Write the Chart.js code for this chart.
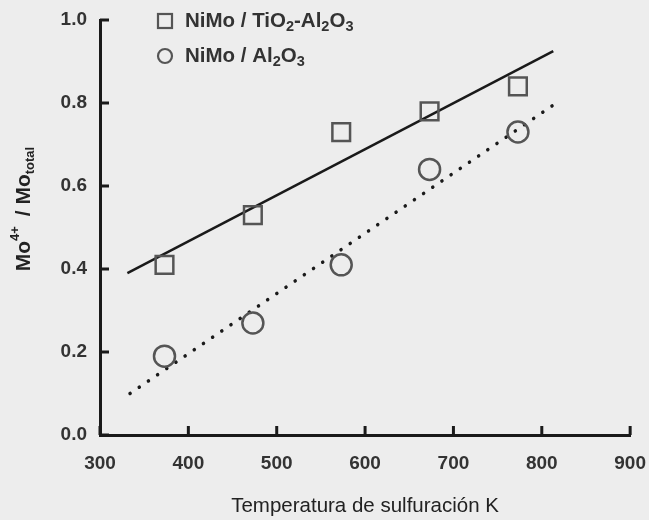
<!DOCTYPE html>
<html>
<head>
<meta charset="utf-8">
<script src="https://cdn.jsdelivr.net/npm/chart.js@4"></script>
<style>
  html, body { margin: 0; padding: 0; background: #ededed; overflow: hidden; }
  #wrap { width: 655px; height: 520px; }
</style>
</head>
<body>
<div id="wrap"><canvas id="chart"></canvas></div>
<script>
// sulfidation temperature (K)
const temps = [373, 473, 573, 673, 773];
// Mo4+ / Mo total
const tioAl = [0.41, 0.53, 0.73, 0.78, 0.84];
const alOnly = [0.19, 0.27, 0.41, 0.64, 0.73];
// fitted lines (ends)
const fitTioX = [331, 813];
const fitTioY = [0.39, 0.925];
const fitAlX = [334, 813];
const fitAlY = [0.10, 0.795];
// labels ("_x" = subscript, "^x" = superscript)
const seriesNames = ["NiMo / TiO2-Al2O3", "NiMo / Al2O3"];
const seriesParts = [
  ["NiMo / TiO", "_2", "-Al", "_2", "O", "_3"],
  ["NiMo / Al", "_2", "O", "_3"]
];
const xTitle = "Temperatura de sulfuración K";
const yTitleParts = ["Mo", "^4+", " / ", "Mo", "_total"];

const pts = (xs, ys) => xs.map((x, i) => ({ x, y: ys[i] }));
const ink = "#1a1a1a";
const markerInk = "#555";
const FONT = "'Liberation Sans', Arial, sans-serif";

// paper background
const bg = {
  id: "bg",
  beforeDraw(c){
    const g = c.ctx;
    g.save();
    g.fillStyle = "#ededed";
    g.fillRect(0, 0, c.width, c.height);
    g.restore();
  }
};

// text with sub/superscripts, returns width
function richText(g, parts, x, y, big, small, draw = true){
  let w = 0;
  parts.forEach(p => {
    const sub = p[0] === "_", sup = p[0] === "^";
    const s = (sub || sup) ? p.slice(1) : p;
    g.font = (sub || sup) ? `bold ${small}px ${FONT}` : `bold ${big}px ${FONT}`;
    const dy = sub ? big * 0.3 : sup ? -big * 0.4 : 0;
    if(draw) g.fillText(s, x + w, y + dy);
    w += g.measureText(s).width + (sup ? 4 : 0);
  });
  return w;
}

// ticks pointing into the plot, legend, y title
const extras = {
  id: "extras",
  afterDraw(c){
    const g = c.ctx, a = c.chartArea;
    const sx = c.scales.x, sy = c.scales.y;
    g.save();
    g.strokeStyle = ink;
    g.lineWidth = 3;
    sx.ticks.forEach(t => {
      const px = sx.getPixelForValue(t.value);
      g.beginPath(); g.moveTo(px, a.bottom); g.lineTo(px, a.bottom - 9); g.stroke();
    });
    sy.ticks.forEach(t => {
      const py = sy.getPixelForValue(t.value);
      g.beginPath(); g.moveTo(a.left, py); g.lineTo(a.left + 9, py); g.stroke();
    });

    // legend
    g.fillStyle = "#333";
    g.textBaseline = "middle";
    g.strokeStyle = markerInk;
    g.lineWidth = 2.2;
    const lx = 165, ly = [21, 56];
    g.strokeRect(lx - 7, ly[0] - 7, 14, 14);
    g.beginPath(); g.arc(lx, ly[1], 7, 0, Math.PI * 2); g.stroke();
    richText(g, seriesParts[0], lx + 20, ly[0], 20.5, 14.5);
    richText(g, seriesParts[1], lx + 20, ly[1], 20.5, 14.5);

    // y title, rotated
    g.fillStyle = "#222";
    g.translate(24, 209);
    g.rotate(-Math.PI / 2);
    const w = richText(g, yTitleParts, 0, 0, 21, 13, false);
    richText(g, yTitleParts, -w / 2, 0, 21, 13);
    g.restore();
  }
};

new Chart(document.getElementById("chart"), {
  type: "scatter",
  data: {
    datasets: [
      {
        label: seriesNames[0],
        data: pts(temps, tioAl),
        pointStyle: "rect",
        pointRadius: 12.5,
        borderColor: markerInk,
        borderWidth: 2.5,
        backgroundColor: "rgba(0,0,0,0)"
      },
      {
        label: seriesNames[1],
        data: pts(temps, alOnly),
        pointStyle: "circle",
        pointRadius: 10.5,
        borderColor: markerInk,
        borderWidth: 2.5,
        backgroundColor: "rgba(0,0,0,0)"
      },
      {
        label: "fit1",
        type: "line",
        data: pts(fitTioX, fitTioY),
        showLine: true,
        pointRadius: 0,
        borderColor: ink,
        borderWidth: 2.5
      },
      {
        label: "fit2",
        type: "line",
        data: pts(fitAlX, fitAlY),
        showLine: true,
        pointRadius: 0,
        borderColor: ink,
        borderWidth: 3.5,
        borderCapStyle: "round",
        borderDash: [0.1, 11]
      }
    ]
  },
  options: {
    responsive: true,
    maintainAspectRatio: false,
    animation: false,
    layout: { padding: { top: 20, right: 0, left: 0, bottom: 0 } },
    plugins: {
      legend: { display: false },
      tooltip: { enabled: false }
    },
    scales: {
      x: {
        type: "linear",
        min: 300, max: 900,
        afterFit: s => { s.height = 85; },
        grid: { display: false },
        border: { display: true, color: ink, width: 3 },
        ticks: {
          stepSize: 100,
          padding: 9,
          color: "#333",
          font: { family: FONT, size: 19, weight: "bold" }
        },
        title: {
          display: true,
          text: xTitle,
          color: "#222",
          padding: { top: 0, bottom: 1 },
          font: { family: FONT, size: 20.5 }
        }
      },
      y: {
        min: 0, max: 1.0,
        afterFit: s => { s.width = 100; },
        grid: { display: false },
        border: { display: true, color: ink, width: 3 },
        ticks: {
          stepSize: 0.2,
          padding: 5,
          color: "#333",
          callback: v => v.toFixed(1),
          font: { family: FONT, size: 19, weight: "bold" }
        },
        title: { display: false }
      }
    }
  },
  plugins: [bg, extras]
});
</script>
</body>
</html>
